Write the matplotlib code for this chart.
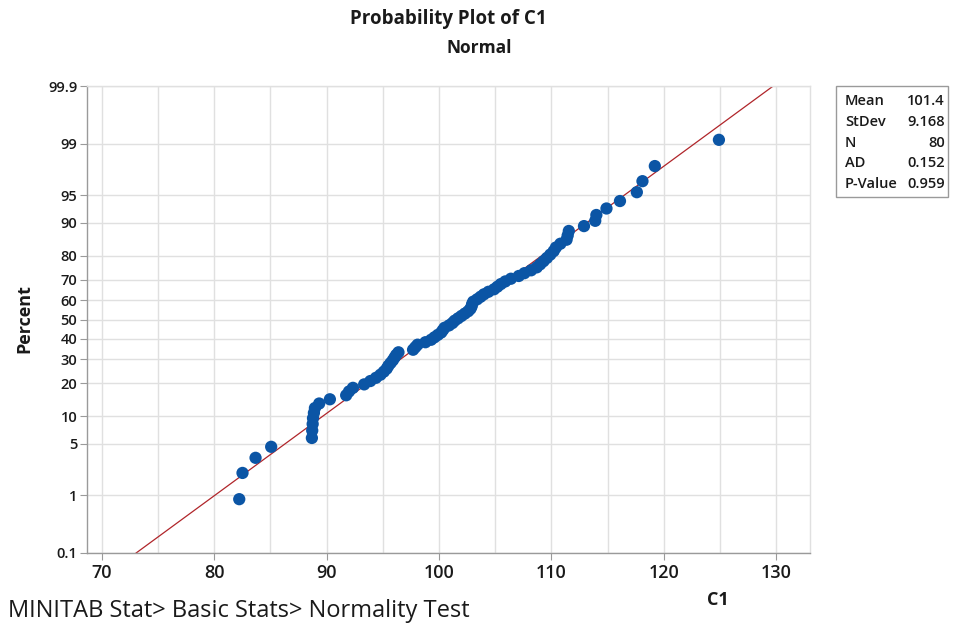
import math
import numpy as np
import matplotlib
matplotlib.use("Agg")
import matplotlib.pyplot as plt
from matplotlib.scale import FuncScale

# ---- data (C1 values, sorted) ----
c1 = [82.24, 82.53, 83.69, 85.08, 88.70, 88.73, 88.77, 88.80, 88.88, 88.97,
      89.35, 90.30, 91.75, 92.00, 92.35, 93.35, 93.90, 94.40, 94.80, 95.10,
      95.35, 95.50, 95.70, 95.90, 96.05, 96.20, 96.40, 97.70, 97.90, 98.10,
      98.80, 99.30, 99.60, 99.90, 100.20, 100.35, 100.50, 100.90, 101.20, 101.40,
      101.70, 102.00, 102.30, 102.60, 102.80, 102.90, 102.95, 103.05, 103.40, 103.70,
      104.00, 104.40, 104.90, 105.20, 105.50, 105.90, 106.40, 107.10, 107.60, 108.20,
      108.70, 109.00, 109.30, 109.60, 109.90, 110.20, 110.40, 110.80, 111.35, 111.45,
      111.55, 112.90, 113.90, 114.00, 114.90, 116.10, 117.60, 118.10, 119.20, 124.90]

mean_val = 101.4
stdev_val = 9.168
n_val = 80
ad_val = 0.152
p_value = 0.959

stat_labels = ["Mean", "StDev", "N", "AD", "P-Value"]
stat_values = ["101.4", "9.168", "80", "0.152", "0.959"]

y_ticks = [0.1, 1, 5, 10, 20, 30, 40, 50, 60, 70, 80, 90, 95, 99, 99.9]
y_tick_labels = ["0.1", "1", "5", "10", "20", "30", "40", "50", "60", "70", "80", "90", "95", "99", "99.9"]
x_ticks = [70, 80, 90, 100, 110, 120, 130]

# ---- normal probability scale ----
_a = [-3.969683028665376e+01, 2.209460984245205e+02, -2.759285104469687e+02,
      1.383577518672690e+02, -3.066479806614716e+01, 2.506628277459239e+00]
_b = [-5.447609879822406e+01, 1.615858368580409e+02, -1.556989798598866e+02,
      6.680131188771972e+01, -1.328068155288572e+01]
_c = [-7.784894002430293e-03, -3.223964580411365e-01, -2.400758277161838e+00,
      -2.549732539343734e+00, 4.374664141464968e+00, 2.938163982698783e+00]
_d = [7.784695709041462e-03, 3.224671290700398e-01, 2.445134137142996e+00,
      3.754408661907416e+00]


def norm_ppf(p):
    p = np.clip(np.asarray(p, dtype=float), 1e-12, 1 - 1e-12)
    q = np.where(p < 0.5, p, 1 - p)
    r = np.sqrt(-2 * np.log(q))
    tail = (((((_c[0]*r+_c[1])*r+_c[2])*r+_c[3])*r+_c[4])*r+_c[5]) / \
           ((((_d[0]*r+_d[1])*r+_d[2])*r+_d[3])*r+1)
    qq = q - 0.5
    rr = qq * qq
    cent = (((((_a[0]*rr+_a[1])*rr+_a[2])*rr+_a[3])*rr+_a[4])*rr+_a[5])*qq / \
           (((((_b[0]*rr+_b[1])*rr+_b[2])*rr+_b[3])*rr+_b[4])*rr+1)
    z = np.where(q < 0.02425, tail, cent)
    return np.where(p < 0.5, z, -z)


_erf = np.vectorize(math.erf)


def pct_forward(v):
    return norm_ppf(np.asarray(v, dtype=float) / 100.0)


def pct_inverse(z):
    return 50.0 * (1.0 + _erf(np.asarray(z, dtype=float) / math.sqrt(2)))


# ---- figure ----
font = ["Open Sans", "DejaVu Sans"]
plt.rcParams["font.family"] = font

fig = plt.figure(figsize=(9.56, 6.26), dpi=100)
ax = fig.add_axes([87/956, 1-553/626, (810-87)/956, (553-86)/626])
ax.set_yscale(FuncScale(ax, (pct_forward, pct_inverse)))

n = len(c1)
ranks = np.arange(1, n + 1)
pct = (ranks - 0.3) / (n + 0.4) * 100

# fitted line
line_p = np.linspace(0.1, 99.9, 400)
line_x = mean_val + stdev_val * norm_ppf(line_p / 100)
ax.plot(line_x, line_p, color="#B0252A", lw=0.9, zorder=2)

ax.scatter(c1, pct, s=78, color="#0B55A5", edgecolors="none", zorder=3)

ax.set_xlim(68.7, 133.0)
ax.set_ylim(0.1, 99.9)
ax.set_xticks(x_ticks)
ax.set_xticks(np.arange(70, 131, 5), minor=True)
ax.set_yticks(y_ticks)
ax.set_yticklabels(y_tick_labels)
ax.yaxis.set_minor_locator(matplotlib.ticker.NullLocator())

ax.grid(True, which="both", axis="x", color="#e0e0e0", lw=1.0, zorder=0)
ax.grid(True, which="major", axis="y", color="#e0e0e0", lw=1.0, zorder=0)
ax.set_axisbelow(True)

ax.tick_params(axis="x", which="major", length=5, width=0.8, color="#9a9a9a",
               labelsize=13, pad=3)
ax.tick_params(axis="x", which="minor", length=0)
ax.tick_params(axis="y", which="major", length=5, width=0.8, color="#9a9a9a",
               labelsize=10.5, pad=2)
for lab in ax.get_xticklabels() + ax.get_yticklabels():
    lab.set_fontweight("semibold")
    lab.set_color("#1a1a1a")

for side in ["left", "bottom"]:
    ax.spines[side].set_color("#9a9a9a")
    ax.spines[side].set_linewidth(1.0)
for side in ["top", "right"]:
    ax.spines[side].set_color("#e0e0e0")
    ax.spines[side].set_linewidth(1.0)

# titles
fig.text(448/956, 1-19/626, "Probability Plot of C1", ha="center", va="center",
         fontsize=13.5, fontweight="bold", color="#1a1a1a")
fig.text(479/956, 1-48/626, "Normal", ha="center", va="center",
         fontsize=12.5, fontweight="bold", color="#1a1a1a")

# axis labels
fig.text(24/956, 1-319/626, "Percent", ha="center", va="center", rotation=90,
         fontsize=13, fontweight="bold", color="#1a1a1a")
fig.text(718/956, 1-600/626, "C1", ha="center", va="center",
         fontsize=13, fontweight="bold", color="#1a1a1a")

# footer
fig.text(8/956, 1-611/626, "MINITAB Stat> Basic Stats> Normality Test",
         ha="left", va="center", fontsize=17, color="#1a1a1a")

# stats box
box = matplotlib.patches.Rectangle((836/956, 1-197/626), (948-836)/956, (197-86)/626,
                                   transform=fig.transFigure, facecolor="white",
                                   edgecolor="#9a9a9a", lw=1.0)
fig.patches.append(box)
for k, (lab, val) in enumerate(zip(stat_labels, stat_values)):
    yy = 1 - (101 + k*20.8) / 626
    fig.text(845/956, yy, lab, ha="left", va="center", fontsize=10.5,
             fontweight="semibold", color="#1a1a1a")
    fig.text(945/956, yy, val, ha="right", va="center", fontsize=10.5,
             fontweight="semibold", color="#1a1a1a")

fig.savefig("out.png", dpi=100)
